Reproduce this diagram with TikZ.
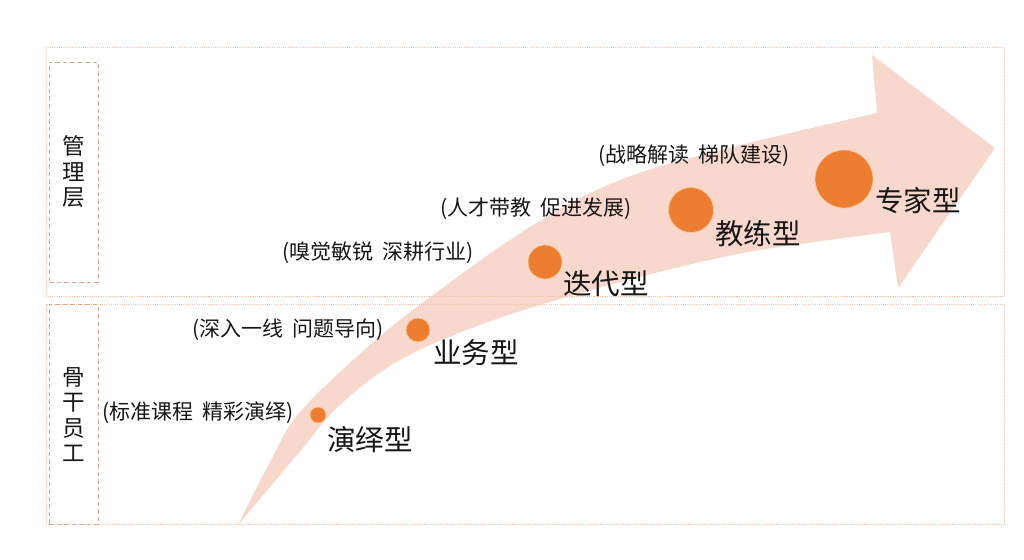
\documentclass[tikz,border=0pt]{standalone}
\usepackage{fontspec}
\setmainfont{Noto Sans CJK SC}[WordSpace=2.0]
\usetikzlibrary{positioning}
\definecolor{bandpink}{RGB}{248,215,205}
\definecolor{dotorange}{RGB}{237,125,49}
\definecolor{dotrim}{RGB}{250,200,150}
\definecolor{framerule}{RGB}{238,196,170}
\definecolor{tagrule}{RGB}{214,170,138}
\definecolor{textdark}{RGB}{22,22,22}

\begin{document}
\begin{tikzpicture}[
  x=1pt, y=-1pt,
  frame/.style={draw=framerule, line width=0.9pt, dash pattern=on 1.1pt off 1.1pt},
  tagbox/.style={draw=tagrule, line width=0.9pt, dash pattern=on 4.5pt off 3pt,
                 minimum width=49pt, minimum height=220pt, inner sep=0pt,
                 font=\fontsize{22.5}{25.5}\selectfont, text=textdark, align=center},
  dot/.style={circle, fill=dotorange, draw=dotrim, line width=0.7pt, inner sep=0pt},
  kind/.style={font=\fontsize{28.5}{32}\selectfont, text=textdark, inner sep=0pt},
  note/.style={font=\fontsize{21}{24}\selectfont, text=textdark, inner sep=0pt}
]
\useasboundingbox (0,0) rectangle (1024,559);

% Growth arrow
\fill[bandpink]
  plot[smooth, tension=0.6] coordinates {(238,525) (270,462) (300,412) (370,345)
    (433,295) (530,227) (620,180) (733,147) (877,113)}
  -- (872,55) -- (995,148) -- (898,288) -- (890,232)
  -- plot[smooth, tension=0.6] coordinates {(890,232) (760,250) (667,270) (567,297)
    (480,325) (400,360) (340,405) (297,455) (238,525)}
  -- cycle;

% Layer frames
\draw[frame] (46,47) rectangle (1004,296);
\draw[frame] (46,304) rectangle (1004,524);

% Layer tags
\node[tagbox] (mgmt) at (73.5,172) {管\\理\\层};
\node[tagbox] (staff) at (73.5,414.5) {骨\\干\\员\\工};

% Stage dots
\node[dot, minimum size=16pt] (yanyi) at (318,415) {};
\node[dot, minimum size=24pt] (yewu) at (418,330) {};
\node[dot, minimum size=34pt] (diedai) at (545,262) {};
\node[dot, minimum size=45pt] (jiaolian) at (691,210) {};
\node[dot, minimum size=58pt] (zhuanjia) at (844,179) {};

% Stage names
\node[kind] (yanyiname) at (370,440) {演绎型};
\node[kind] (yewuname) at (476,353) {业务型};
\node[kind] (diedainame) at (606,284) {迭代型};
\node[kind] (jiaolianname) at (758,234) {教练型};
\node[kind] (zhuanjianame) at (918,201) {专家型};

% Stage notes
\node[note] (yanyinote) at (198,413) {(标准课程 精彩演绎)};
\node[note] (yewunote) at (288,330) {(深入一线 问题导向)};
\node[note] (diedainote) at (378,253) {(嗅觉敏锐 深耕行业)};
\node[note] (jiaoliannote) at (536,209) {(人才带教 促进发展)};
\node[note] (zhuanjianote) at (694,156) {(战略解读 梯队建设)};

\end{tikzpicture}
\end{document}
